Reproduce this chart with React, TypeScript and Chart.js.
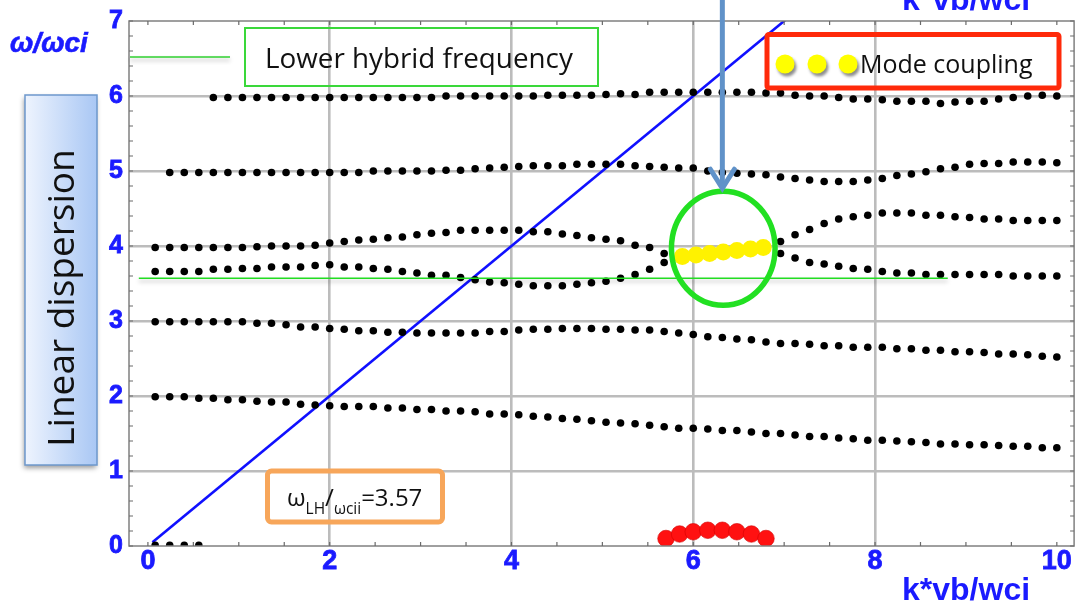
import React, { useEffect, useRef } from 'react';
import { Chart, registerables } from 'chart.js';

Chart.register(...registerables);

// Normalised wavenumber samples k·vb/ωci shared by the dispersion branches
const K_GRID = [
  0.08, 0.24, 0.40, 0.56, 0.72, 0.88, 1.04, 1.20, 1.36, 1.52,
  1.68, 1.84, 2.00, 2.16, 2.32, 2.48, 2.64, 2.80, 2.96, 3.12,
  3.28, 3.44, 3.60, 3.76, 3.92, 4.08, 4.24, 4.40, 4.56, 4.72,
  4.88, 5.04, 5.20, 5.36, 5.52, 5.68, 5.84, 6.00, 6.16, 6.32,
  6.48, 6.64, 6.80, 6.96, 7.12, 7.28, 7.44, 7.60, 7.76, 7.92,
  8.08, 8.24, 8.40, 8.56, 8.72, 8.88, 9.04, 9.20, 9.36, 9.52,
  9.68, 9.84, 10.00,
];

// ω/ωci of each branch on K_GRID (null = no root found there)
const BRANCH_6 = [
  null, null, null, null, 5.98, 5.98, 5.98, 5.98, 5.98, 5.98,
  5.98, 5.98, 5.98, 5.98, 5.98, 5.98, 5.98, 5.98, 5.98, 5.98,
  6.00, 6.00, 6.00, 6.00, 6.00, 6.00, 6.00, 6.01, 6.01, 6.01,
  6.01, 6.02, 6.03, 6.02, 6.05, 6.05, 6.05, 6.05, 6.05, 6.05,
  6.05, 6.05, 6.04, 6.04, 6.01, 6.00, 6.00, 5.98, 5.96, 5.96,
  5.95, 5.93, 5.93, 5.93, 5.90, 5.92, 5.93, 5.93, 5.96, 5.98,
  6.00, 6.01, 6.00,
];
const BRANCH_5 = [
  null, 4.98, 4.98, 4.98, 4.98, 4.98, 4.98, 4.98, 4.98, 4.98,
  4.98, 4.98, 4.98, 4.98, 4.98, 5.00, 5.00, 5.00, 5.00, 5.00,
  5.01, 5.01, 5.03, 5.04, 5.05, 5.06, 5.07, 5.07, 5.07, 5.09,
  5.09, 5.09, 5.09, 5.07, 5.06, 5.05, 5.04, 5.04, 5.00, 4.98,
  4.97, 4.96, 4.95, 4.92, 4.90, 4.88, 4.86, 4.86, 4.86, 4.88,
  4.90, 4.94, 4.96, 4.99, 5.03, 5.05, 5.09, 5.10, 5.10, 5.12,
  5.12, 5.12, 5.11,
];
const BRANCH_4 = [
  3.98, 3.98, 3.98, 3.98, 3.98, 3.98, 3.98, 3.99, 4.00, 4.00,
  4.00, 4.01, 4.04, 4.06, 4.08, 4.09, 4.11, 4.12, 4.15, 4.17,
  4.18, 4.21, 4.21, 4.21, 4.21, 4.21, 4.19, 4.19, 4.16, 4.14,
  4.11, 4.09, 4.07, 4.01, 3.98, 3.90, null, null, null, null,
  null, null, null, 3.90, 3.84, 3.78, 3.76, 3.73, 3.70, 3.69,
  3.66, 3.64, 3.64, 3.62, 3.62, 3.62, 3.62, 3.62, 3.62, 3.60,
  3.60, 3.60, 3.60,
];
const BRANCH_LH = [
  3.66, 3.66, 3.66, 3.66, 3.69, 3.69, 3.70, 3.70, 3.72, 3.72,
  3.72, 3.74, 3.75, 3.72, 3.72, 3.70, 3.69, 3.66, 3.64, 3.61,
  3.61, 3.58, 3.55, 3.52, 3.51, 3.49, 3.47, 3.47, 3.47, 3.49,
  3.51, 3.53, 3.57, 3.62, 3.69, 3.78, null, null, null, null,
  null, null, null, 4.06, 4.15, 4.22, 4.30, 4.36, 4.39, 4.41,
  4.44, 4.44, 4.44, 4.41, 4.41, 4.39, 4.38, 4.36, 4.36, 4.34,
  4.34, 4.34, 4.34,
];
const BRANCH_3 = [
  2.99, 2.99, 2.99, 2.99, 2.99, 2.99, 2.99, 2.97, 2.97, 2.95,
  2.92, 2.92, 2.90, 2.89, 2.87, 2.87, 2.85, 2.85, 2.84, 2.84,
  2.84, 2.84, 2.84, 2.86, 2.86, 2.88, 2.89, 2.89, 2.90, 2.90,
  2.90, 2.89, 2.89, 2.88, 2.88, 2.86, 2.84, 2.82, 2.79, 2.78,
  2.76, 2.75, 2.72, 2.70, 2.70, 2.69, 2.67, 2.67, 2.65, 2.65,
  2.65, 2.63, 2.63, 2.61, 2.61, 2.59, 2.59, 2.58, 2.56, 2.56,
  2.55, 2.53, 2.52,
];
const BRANCH_2 = [
  1.99, 1.99, 1.99, 1.97, 1.97, 1.95, 1.95, 1.93, 1.92, 1.92,
  1.89, 1.88, 1.87, 1.86, 1.86, 1.86, 1.84, 1.84, 1.82, 1.82,
  1.80, 1.80, 1.79, 1.76, 1.76, 1.75, 1.73, 1.72, 1.70, 1.69,
  1.67, 1.65, 1.64, 1.63, 1.61, 1.59, 1.57, 1.57, 1.56, 1.54,
  1.54, 1.52, 1.50, 1.50, 1.48, 1.46, 1.46, 1.44, 1.43, 1.41,
  1.41, 1.40, 1.39, 1.38, 1.36, 1.36, 1.35, 1.35, 1.34, 1.33,
  1.33, 1.31, 1.31,
];
const LOW_K = [0.08, 0.24, 0.40, 0.56];
const LOW_W = [0.01, 0.01, 0.01, 0.01];

// Coupled roots (yellow) and the unstable growth branch (red)
const COUPLED_K = [5.88, 6.03, 6.18, 6.33, 6.48, 6.63, 6.77];
const COUPLED_W = [3.86, 3.88, 3.90, 3.92, 3.94, 3.96, 3.98];
const GROWTH_K = [5.70, 5.85, 6.00, 6.16, 6.32, 6.48, 6.64, 6.80];
const GROWTH_W = [0.10, 0.16, 0.19, 0.21, 0.21, 0.19, 0.16, 0.10];

// Beam line ω = k·vb and the lower hybrid frequency
const BEAM_K = [0.05, 7.5];
const BEAM_W = [0.05, 7.5];
const LH_K = [-0.1, 8.8];
const LH_FREQ = 3.57;

const X_TICKS = [0, 2, 4, 6, 8, 10];
const Y_TICKS = [0, 1, 2, 3, 4, 5, 6, 7];
const X_GRID = [2, 4, 6, 8];
const Y_GRID = [1, 2, 3, 4, 5, 6];

const BLUE = '#1a1aff';
const TEXT_FONT = "'Open Sans'";
const AXIS_FONT = "'Liberation Sans'";

type Pt = { x: number; y: number };
const toPoints = (ks: number[], ws: (number | null)[]): Pt[] =>
  ks
    .map((k, i) => ({ x: k, y: ws[i] }))
    .filter((p): p is Pt => p.y !== null && p.y !== undefined);

const branchSet = (ws: (number | null)[], ks: number[] = K_GRID) => ({
  type: 'scatter' as const,
  data: toPoints(ks, ws),
  pointRadius: 3.8,
  pointBackgroundColor: '#000',
  pointBorderWidth: 0,
  showLine: false,
  clip: 0,
});

const roundRect = (ctx: CanvasRenderingContext2D, x: number, y: number, w: number, h: number, r: number) => {
  ctx.beginPath();
  ctx.moveTo(x + r, y);
  ctx.lineTo(x + w - r, y);
  ctx.arcTo(x + w, y, x + w, y + r, r);
  ctx.lineTo(x + w, y + h - r);
  ctx.arcTo(x + w, y + h, x + w - r, y + h, r);
  ctx.lineTo(x + r, y + h);
  ctx.arcTo(x, y + h, x, y + h - r, r);
  ctx.lineTo(x, y + r);
  ctx.arcTo(x, y, x + r, y, r);
  ctx.closePath();
};

const decor = {
  id: 'decor',
  beforeDraw(chart: any) {
    const { ctx, width, height } = chart;
    ctx.save();
    ctx.fillStyle = '#fff';
    ctx.fillRect(0, 0, width, height);
    ctx.restore();
  },
  beforeDatasetDraw(chart: any, args: any) {
    if (args.index === 0) {
      const ctx = chart.ctx;
      ctx.save();
      ctx.shadowColor = 'rgba(0,0,0,0.28)';
      ctx.shadowBlur = 4;
      ctx.shadowOffsetY = 3;
    }
  },
  afterDatasetDraw(chart: any, args: any) {
    if (args.index === 0) chart.ctx.restore();
  },
  afterDraw(chart: any) {
    const ctx: CanvasRenderingContext2D = chart.ctx;
    const xs = chart.scales.x;
    const ys = chart.scales.y;
    const { left, right, top, bottom } = chart.chartArea;
    ctx.save();

    // plot frame with inward minor ticks on all four sides
    ctx.strokeStyle = '#808080';
    ctx.lineWidth = 1.5;
    ctx.strokeRect(left, top, right - left, bottom - top);
    ctx.strokeStyle = '#6a6a6a';
    ctx.lineWidth = 1.2;
    ctx.beginPath();
    for (let i = 0; i <= 20; i++) {
      const p = xs.getPixelForValue(i * 0.5);
      ctx.moveTo(p, bottom); ctx.lineTo(p, bottom - 4);
      ctx.moveTo(p, top); ctx.lineTo(p, top + 4);
    }
    for (let i = 0; i <= 35; i++) {
      const p = ys.getPixelForValue(i * 0.2);
      ctx.moveTo(left, p); ctx.lineTo(left + 4, p);
      ctx.moveTo(right, p); ctx.lineTo(right - 4, p);
    }
    ctx.stroke();

    // coupling region: ellipse and pointer arrow
    const cx = xs.getPixelForValue(6.33);
    const cy = ys.getPixelForValue(3.97);
    const rx = xs.getPixelForValue(6.33 + 0.57) - cx;
    const ry = cy - ys.getPixelForValue(3.97 + 0.76);
    ctx.strokeStyle = '#22e022';
    ctx.lineWidth = 5.5;
    ctx.beginPath();
    ctx.ellipse(cx, cy, rx, ry, 0, 0, Math.PI * 2);
    ctx.stroke();

    const ax = xs.getPixelForValue(6.32);
    const tip = cy - ry - 1;
    ctx.strokeStyle = '#6092c9';
    ctx.lineWidth = 5;
    ctx.beginPath();
    ctx.moveTo(ax, 0);
    ctx.lineTo(ax, tip - 3);
    ctx.stroke();
    ctx.lineCap = 'round';
    ctx.lineJoin = 'miter';
    ctx.beginPath();
    ctx.moveTo(ax - 12, tip - 21);
    ctx.lineTo(ax, tip - 2);
    ctx.lineTo(ax + 12, tip - 21);
    ctx.stroke();
    ctx.lineCap = 'butt';

    // lower hybrid legend
    ctx.save();
    ctx.shadowColor = 'rgba(0,0,0,0.3)';
    ctx.shadowBlur = 4;
    ctx.shadowOffsetY = 3;
    ctx.strokeStyle = '#2fd02f';
    ctx.lineWidth = 1.5;
    ctx.beginPath();
    ctx.moveTo(130, 57);
    ctx.lineTo(230, 57);
    ctx.stroke();
    ctx.restore();
    ctx.strokeStyle = '#3ad83a';
    ctx.lineWidth = 2;
    ctx.strokeRect(245, 28, 353, 58);
    ctx.fillStyle = '#111';
    ctx.font = `27.8px ${TEXT_FONT}`;
    ctx.textBaseline = 'alphabetic';
    ctx.textAlign = 'left';
    ctx.fillText('Lower hybrid frequency', 265, 68);

    // mode coupling legend
    ctx.strokeStyle = '#ff2a0a';
    ctx.lineWidth = 5;
    roundRect(ctx, 767, 34.5, 292, 53.5, 2);
    ctx.stroke();
    ctx.save();
    ctx.shadowColor = 'rgba(0,0,0,0.45)';
    ctx.shadowBlur = 3;
    ctx.shadowOffsetX = 2;
    ctx.shadowOffsetY = 3;
    ctx.fillStyle = '#ffff00';
    for (const bx of [785, 817, 848]) {
      ctx.beginPath();
      ctx.arc(bx, 64, 9.5, 0, Math.PI * 2);
      ctx.fill();
    }
    ctx.restore();
    ctx.fillStyle = '#111';
    ctx.font = `25px ${TEXT_FONT}`;
    ctx.fillText('Mode coupling', 860, 73);

    // lower hybrid value box
    ctx.strokeStyle = '#f7a65a';
    ctx.lineWidth = 5;
    roundRect(ctx, 267.5, 471, 175, 51, 4);
    ctx.stroke();
    const runs: { t: string; sub?: boolean }[] = [
      { t: 'ω' }, { t: 'LH', sub: true }, { t: '/' }, { t: 'ωcii', sub: true }, { t: '=3.57' },
    ];
    let tx = 287;
    ctx.fillStyle = '#111';
    for (const r of runs) {
      ctx.font = r.sub ? `15.5px ${TEXT_FONT}` : `24px ${TEXT_FONT}`;
      ctx.fillText(r.t, tx, r.sub ? 514 : 506);
      tx += ctx.measureText(r.t).width;
    }

    // "Linear dispersion" side panel
    ctx.save();
    ctx.shadowColor = 'rgba(0,0,0,0.4)';
    ctx.shadowBlur = 5;
    ctx.shadowOffsetX = -1;
    ctx.shadowOffsetY = 3;
    const grad = ctx.createLinearGradient(25, 0, 97, 0);
    grad.addColorStop(0, '#eef4fe');
    grad.addColorStop(1, '#a9c7f4');
    ctx.fillStyle = grad;
    ctx.fillRect(25, 95, 72, 370);
    ctx.restore();
    ctx.strokeStyle = '#6d98cd';
    ctx.lineWidth = 1.5;
    ctx.strokeRect(25, 95, 72, 370);
    ctx.save();
    ctx.translate(63, 298);
    ctx.rotate(-Math.PI / 2);
    ctx.fillStyle = '#111';
    ctx.font = `37px ${TEXT_FONT}`;
    ctx.textAlign = 'center';
    ctx.textBaseline = 'middle';
    ctx.fillText('Linear dispersion', 0, 0);
    ctx.restore();

    // axis titles
    ctx.fillStyle = BLUE;
    ctx.strokeStyle = BLUE;
    ctx.lineWidth = 0.6;
    ctx.textAlign = 'left';
    ctx.textBaseline = 'alphabetic';
    ctx.font = `italic bold 28px ${AXIS_FONT}`;
    ctx.fillText('ω/ωci', 10, 52);
    ctx.strokeText('ω/ωci', 10, 52);
    ctx.font = `bold 32px ${AXIS_FONT}`;
    ctx.fillText('k*vb/wci', 902, 600);
    ctx.fillText('k*vb/wci', 902, 10);

    ctx.restore();
  },
};

export default function App() {
  const ref = useRef<HTMLCanvasElement>(null);

  useEffect(() => {
    const canvas = ref.current;
    if (!canvas) return;
    const gridColor = (vals: number[]) => (c: any) =>
      c.tick && vals.includes(c.tick.value) ? '#bcbcbc' : 'rgba(0,0,0,0)';

    const chart = new Chart(canvas, {
      type: 'scatter',
      data: {
        datasets: [
          {
            type: 'line',
            label: 'Lower hybrid frequency',
            data: LH_K.map((k) => ({ x: k, y: LH_FREQ })),
            borderColor: '#22dd22',
            borderWidth: 1.3,
            pointRadius: 0,
            clip: 0,
          },
          {
            label: 'Mode coupling',
            data: toPoints(COUPLED_K, COUPLED_W),
            pointRadius: 8.5,
            pointBackgroundColor: '#fff200',
            pointBorderWidth: 0,
            showLine: false,
            clip: 0,
          },
          {
            label: 'Growth',
            data: toPoints(GROWTH_K, GROWTH_W),
            pointRadius: 8.3,
            pointBackgroundColor: '#ff1111',
            pointBorderColor: '#d40000',
            pointBorderWidth: 0.6,
            showLine: false,
            clip: 0,
          },
          branchSet(BRANCH_6),
          branchSet(BRANCH_5),
          branchSet(BRANCH_4),
          branchSet(BRANCH_LH),
          branchSet(BRANCH_3),
          branchSet(BRANCH_2),
          branchSet(LOW_W, LOW_K),
          {
            type: 'line',
            label: 'Beam',
            data: toPoints(BEAM_K, BEAM_W),
            borderColor: '#1010ff',
            borderWidth: 2.6,
            pointRadius: 0,
            clip: 0,
          },
        ] as any,
      },
      options: {
        animation: false,
        responsive: false,
        devicePixelRatio: 1,
        events: [],
        layout: { padding: { left: 0, top: 21, right: 4, bottom: 0 } },
        plugins: { legend: { display: false }, tooltip: { enabled: false } },
        scales: {
          x: {
            type: 'linear',
            min: -0.208,
            max: 10.19,
            afterBuildTicks: (s: any) => {
              s.ticks = X_TICKS.map((v) => ({ value: v }));
            },
            afterFit: (s: any) => {
              s.height = 59;
            },
            border: { display: false },
            grid: { color: gridColor(X_GRID), lineWidth: 2.6, drawTicks: false },
            ticks: {
              color: BLUE,
              textStrokeColor: BLUE,
              textStrokeWidth: 0.8,
              font: { family: AXIS_FONT, size: 27, weight: 'bold', lineHeight: 1 },
              padding: 2,
              maxRotation: 0,
              autoSkip: false,
            },
          },
          y: {
            type: 'linear',
            min: 0,
            max: 7,
            afterBuildTicks: (s: any) => {
              s.ticks = Y_TICKS.map((v) => ({ value: v }));
            },
            afterFit: (s: any) => {
              s.width = 129;
            },
            border: { display: false },
            grid: { color: gridColor(Y_GRID), lineWidth: 2.4, drawTicks: false },
            ticks: {
              color: BLUE,
              textStrokeColor: BLUE,
              textStrokeWidth: 0.8,
              font: { family: AXIS_FONT, size: 25, weight: 'bold', lineHeight: 1 },
              padding: 6,
              autoSkip: false,
            },
          },
        },
      } as any,
      plugins: [decor],
    });
    return () => chart.destroy();
  }, []);

  return (
    <div style={{ position: 'absolute', left: 0, top: 0, width: 1083, height: 605, background: '#fff' }}>
      <canvas ref={ref} width={1083} height={605} style={{ display: 'block', width: 1083, height: 605 }} />
    </div>
  );
}
